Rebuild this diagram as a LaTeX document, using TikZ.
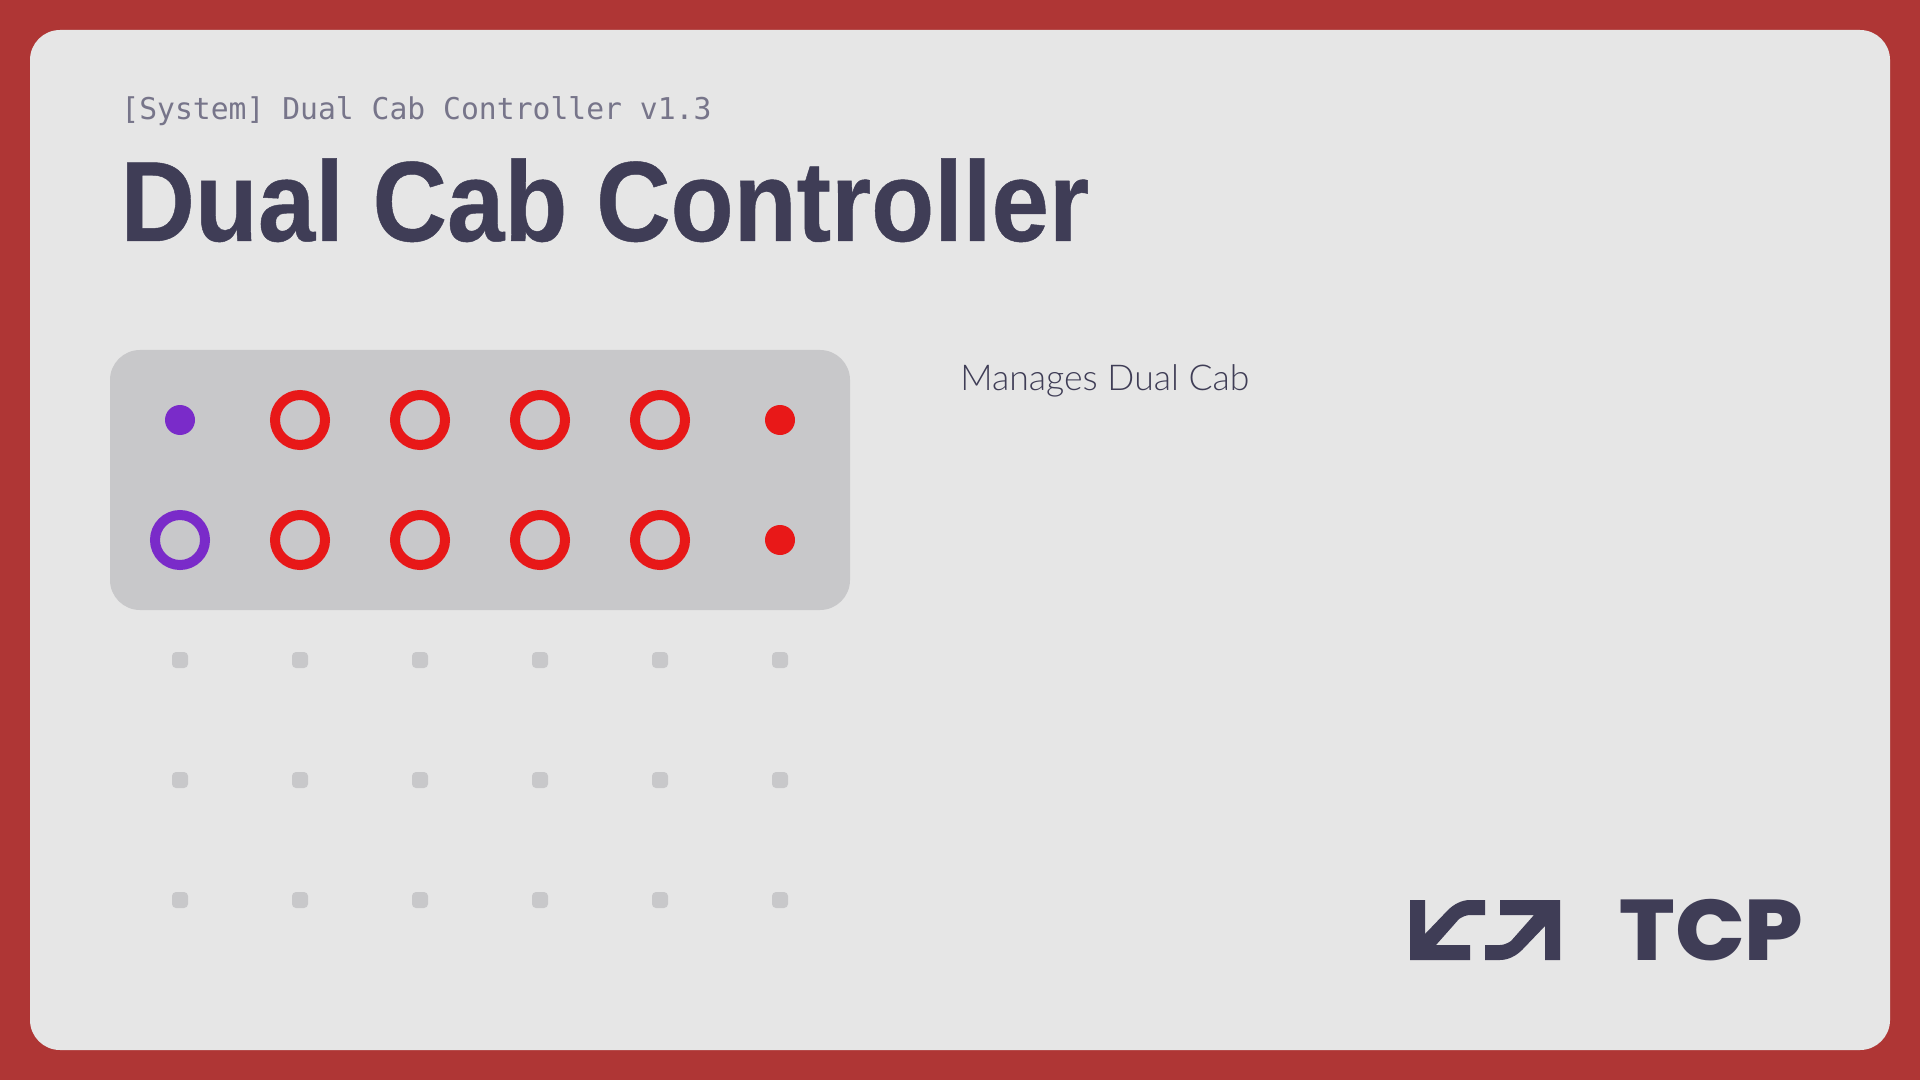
\documentclass[tikz,border=0pt]{standalone}
\usepackage{fontspec}
\setmainfont{Liberation Sans}
\newfontfamily\titlefont[FakeStretch=0.905,FakeBold=0.4]{Liberation Sans Bold}
\newfontfamily\monofont[FakeStretch=0.99]{DejaVu Sans Mono}
\newfontfamily\descfont{Lato Light}
\newfontfamily\logofont[FakeStretch=1.07]{Poppins ExtraBold}
\definecolor{bgred}{HTML}{AF3635}
\definecolor{card}{HTML}{E6E6E6}
\definecolor{panel}{HTML}{C8C8CA}
\definecolor{ink}{HTML}{3F3D56}
\definecolor{muted}{HTML}{77758A}
\definecolor{dotred}{HTML}{E81818}
\definecolor{dotpurple}{HTML}{7A2BC9}
\tikzset{
  dotfill/.style={circle,inner sep=0pt,minimum size=15pt,fill=#1},
  ringdot/.style={circle,inner sep=0pt,minimum size=25pt,draw=#1,line width=5pt},
  slot/.style={rectangle,rounded corners=2pt,inner sep=0pt,minimum size=8pt,fill=panel},
  txt/.style={inner sep=0pt,anchor=base west,text=#1},
}
\begin{document}
\begin{tikzpicture}[x=0.5pt,y=-0.5pt]
\useasboundingbox (0,0) rectangle (1920,1080);
\fill[bgred] (0,0) rectangle (1920,1080);
\fill[card,rounded corners=15pt] (30,30) rectangle (1890,1050);
\fill[panel,rounded corners=15pt] (110,350) rectangle (850,610);
\node[txt=muted] (sub) at (121,120) {\monofont\fontsize{15}{18}\selectfont [System] Dual Cab Controller v1.3};
\node[txt=ink] (title) at (120,241) {\titlefont\fontsize{57}{68}\selectfont Dual Cab Controller};
\node[txt=ink] (desc) at (960,390) {\descfont\fontsize{17.8}{22}\selectfont Manages Dual Cab};
\node[dotfill=dotpurple] (a1) at (180,420) {};
\node[ringdot=dotpurple] (b1) at (180,540) {};
\foreach \c/\x in {2/300,3/420,4/540,5/660}{
  \node[ringdot=dotred] (a\c) at (\x,420) {};
  \node[ringdot=dotred] (b\c) at (\x,540) {};
}
\node[dotfill=dotred] (a6) at (780,420) {};
\node[dotfill=dotred] (b6) at (780,540) {};
\foreach \r/\y in {1/660,2/780,3/900}
  \foreach \c/\x in {1/180,2/300,3/420,4/540,5/660,6/780}
    \node[slot] (s\r\c) at (\x,\y) {};
\fill[ink] (1410,900) -- (1425,900) -- (1425,934) -- (1448,910)
  .. controls (1454,904) and (1462,900) .. (1470,900) -- (1485,900) -- (1485,915) -- (1470,915)
  .. controls (1466,915) and (1462,917) .. (1459,919) -- (1436,945) -- (1470,945) -- (1470,960) -- (1410,960) -- cycle;
\fill[ink] (1560,960) -- (1545,960) -- (1545,926) -- (1522,950)
  .. controls (1516,956) and (1508,960) .. (1500,960) -- (1485,960) -- (1485,945) -- (1500,945)
  .. controls (1504,945) and (1508,943) .. (1511,941) -- (1534,915) -- (1500,915) -- (1500,900) -- (1560,900) -- cycle;
\node[txt=ink] (tcp) at (1619,960) {\logofont\fontsize{43}{50}\selectfont TCP};
\end{tikzpicture}
\end{document}
